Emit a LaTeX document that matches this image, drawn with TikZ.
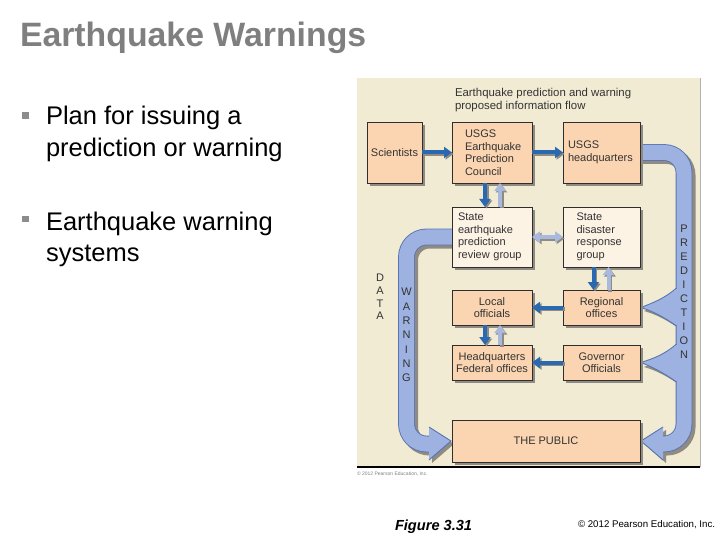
\documentclass[tikz,border=0pt]{standalone}
\usepackage{fontspec}
\setmainfont{Liberation Sans}
\usetikzlibrary{arrows.meta,shadows,calc}
\pgfdeclarelayer{bgA}
\pgfdeclarelayer{bgB}
\pgfsetlayers{bgA,bgB,main}
\definecolor{panelbg}{HTML}{F1EBD3}
\definecolor{peach}{HTML}{FBD5B1}
\definecolor{cream}{HTML}{FCF3E5}
\definecolor{bandfill}{HTML}{9DB2E0}
\definecolor{bandline}{HTML}{5774B2}
\definecolor{darkarr}{HTML}{2A68B0}
\definecolor{lightarr}{HTML}{A9B9DD}
\definecolor{titlegray}{HTML}{7F7F7F}
\definecolor{boxline}{HTML}{2E2E2E}
\definecolor{shadowgray}{HTML}{8F8B82}
\definecolor{figtext}{HTML}{333333}
\begin{document}
\begin{tikzpicture}[x=1pt,y=-1pt,
  every node/.style={inner sep=0pt, outer sep=0pt},
  fbox/.style={draw=boxline, line width=0.8pt, text=figtext,
    font=\fontsize{11}{12.5}\selectfont, align=left,
    drop shadow={shadow xshift=3pt, shadow yshift=-3pt, fill=shadowgray, opacity=1}},
  peachbox/.style={fbox, fill=peach},
  creambox/.style={fbox, fill=cream},
  darr/.style={draw=darkarr, line width=4pt, -{Triangle[width=11pt,length=8pt]}},
  larr/.style={draw=lightarr, line width=4pt, -{Triangle[width=11pt,length=8pt]}},
  lbarr/.style={draw=lightarr, line width=4pt, {Triangle[width=11pt,length=8pt]}-{Triangle[width=11pt,length=8pt]}},
  sarr/.style={draw=shadowgray, line width=4pt, -{Triangle[width=11pt,length=8pt]}},
  sbarr/.style={draw=shadowgray, line width=4pt, {Triangle[width=11pt,length=8pt]}-{Triangle[width=11pt,length=8pt]}},
  band/.style={draw=bandline, line width=0.9pt, double=bandfill, double distance=15pt, rounded corners=20pt},
  bandshadow/.style={draw=shadowgray, line width=17pt, rounded corners=20pt},
  headfill/.style={fill=bandfill},
  headline/.style={draw=bandline, line width=0.9pt},
  letters/.style={font=\fontsize{11}{14}\selectfont, align=center, text=figtext},
  bul/.style={fill=titlegray!90, minimum width=6.5pt, minimum height=6.5pt},
  bultext/.style={anchor=base west, font=\fontsize{25.5}{31}\selectfont, text=black}
]
\useasboundingbox (0,0) rectangle (720,540);

% slide text
\node[anchor=base west, font=\fontsize{33.8}{40}\selectfont\bfseries, text=titlegray] (title) at (20,47) {Earthquake Warnings};
\node[bul] (b1) at (25.5,115.5) {};
\node[bultext] (t1a) at (46,125) {Plan for issuing a};
\node[bultext] (t1b) at (46,157) {prediction or warning};
\node[bul] (b2) at (25.5,219) {};
\node[bultext] (t2a) at (46,230) {Earthquake warning};
\node[bultext] (t2b) at (46,261) {systems};
\node[anchor=base west, font=\fontsize{14.6}{17}\selectfont\bfseries\itshape] (fig) at (395,530) {Figure 3.31};
\node[anchor=base west, font=\fontsize{9.7}{11}\selectfont] (copy) at (578,527) {© 2012 Pearson Education, Inc.};

% panel
\begin{pgfonlayer}{bgA}
\fill[panelbg] (357,78) rectangle (700,467);
\draw[gray!60, line width=0.6pt] (700,78) -- (700,467);
\draw[black, line width=1.2pt] (357,467) -- (700,467);
\end{pgfonlayer}
\node[anchor=west, font=\fontsize{5}{6}\selectfont, text=gray] (pcopy) at (357,474) {© 2012 Pearson Education, Inc.};

\node[anchor=north west, font=\fontsize{11.4}{13}\selectfont, align=left, text=figtext] (header) at (455,88.5) {Earthquake prediction and warning\\proposed information flow};

% boxes
\node[peachbox, minimum width=55pt, minimum height=61pt, align=center] (sci) at (394.5,152.5) {Scientists};
\node[peachbox, minimum width=80pt, minimum height=61pt, text width=54pt] (council) at (492,152.5) {USGS\\Earthquake\\Prediction\\Council};
\node[peachbox, minimum width=77pt, minimum height=61pt, text width=67pt] (hq) at (601.5,152.5) {USGS\\headquarters};
\node[creambox, minimum width=80pt, minimum height=60pt, text width=68pt] (review) at (492,237) {State\\earthquake\\prediction\\review group};
\node[creambox, minimum width=77pt, minimum height=60pt, text width=50pt] (disaster) at (601.5,237) {State\\disaster\\response\\group};
\node[peachbox, minimum width=80pt, minimum height=35pt, align=center] (local) at (492,307.5) {Local\\officials};
\node[peachbox, minimum width=77pt, minimum height=35pt, align=center] (regional) at (601.5,307.5) {Regional\\offices};
\node[peachbox, minimum width=80pt, minimum height=35pt, align=center] (hqfed) at (492,362.5) {Headquarters\\Federal offices};
\node[peachbox, minimum width=77pt, minimum height=35pt, align=center] (gov) at (601.5,362.5) {Governor\\Officials};
\node[peachbox, minimum width=188pt, minimum height=42pt, align=center] (public) at (546,441) {THE PUBLIC};

% letters
\node[letters] (pred) at (684,292) {P\\R\\E\\D\\I\\C\\T\\I\\O\\N};
\node[letters, font=\fontsize{11}{12.7}\selectfont] (data) at (380,297) {D\\A\\T\\A};
\node[letters, font=\fontsize{11}{14.3}\selectfont] (warn) at (406.5,335) {W\\A\\R\\N\\I\\N\\G};

% big band shadows
\begin{pgfonlayer}{bgA}
\begin{scope}[transform canvas={shift={(3pt,-3pt)}}]
\draw[bandshadow] (hq.east) -- (684,152.5) -- (684,444) -- (660,444);
\draw[bandshadow] (review.west) -- (406.5,237) -- (406.5,444) -- (431,444);
\fill[shadowgray] (677,288) .. controls (665,298) and (655,302) .. (641,308) .. controls (655,312) and (665,318) .. (677,326) -- cycle;
\fill[shadowgray] (677,344) .. controls (665,354) and (655,358) .. (641,364) .. controls (655,368) and (665,374) .. (677,382) -- cycle;
\fill[shadowgray] (663,427) -- (641,441) -- (663,460) -- cycle;
\fill[shadowgray] (429,427) -- (451,441) -- (429,460) -- cycle;
\end{scope}
\end{pgfonlayer}

% big bands
\begin{pgfonlayer}{bgB}
\draw[band] (hq.east) -- (684,152.5) -- (684,444) -- (660,444);
\draw[band] (review.west) -- (406.5,237) -- (406.5,444) -- (431,444);
% head into public (right)
\fill[headfill] (663,427) -- ($(public.east)+(1,0)$) -- (663,460) -- cycle;
\draw[headline] (663,427) -- ($(public.east)+(1,0)$) -- (663,460);
% head into public (left)
\fill[headfill] (429,427) -- ($(public.west)+(-1,0)$) -- (429,460) -- cycle;
\draw[headline] (429,427) -- ($(public.west)+(-1,0)$) -- (429,460);
% wedges to regional and governor
\fill[headfill] (677.5,288) .. controls (665,298) and (655,302) .. ($(regional.east)+(1,0)$) .. controls (655,312) and (665,318) .. (677.5,326) -- cycle;
\draw[headline] (676.5,288) .. controls (665,298) and (655,302) .. ($(regional.east)+(1,0)$) .. controls (655,312) and (665,318) .. (676.5,326);
\fill[headfill] (677.5,344) .. controls (665,354) and (655,358) .. ($(gov.east)+(1,0)$) .. controls (655,368) and (665,374) .. (677.5,382) -- cycle;
\draw[headline] (676.5,344) .. controls (665,354) and (655,358) .. ($(gov.east)+(1,0)$) .. controls (655,368) and (665,374) .. (676.5,382);
\end{pgfonlayer}

% small arrow shadows
\begin{scope}[transform canvas={shift={(1.5pt,-1.5pt)}}]
\draw[sarr] (sci.east) -- (council.west);
\draw[sarr] (council.east) -- (hq.west);
\draw[sarr] ($(council.south)+(-7,0)$) -- ($(review.north)+(-7,0)$);
\draw[sarr] ($(review.north)+(8,0)$) -- ($(council.south)+(8,0)$);
\draw[sbarr] (review.east) -- (disaster.west);
\draw[sarr] ($(disaster.south)+(-8,0)$) -- ($(regional.north)+(-8,0)$);
\draw[sarr] ($(regional.north)+(7,0)$) -- ($(disaster.south)+(7,0)$);
\draw[sarr] (regional.west) -- (local.east);
\draw[sarr] ($(local.south)+(-7,0)$) -- ($(hqfed.north)+(-7,0)$);
\draw[sarr] ($(hqfed.north)+(8,0)$) -- ($(local.south)+(8,0)$);
\draw[sarr] (gov.west) -- (hqfed.east);
\end{scope}

% small arrows
\draw[darr] (sci.east) -- (council.west);
\draw[darr] (council.east) -- (hq.west);
\draw[darr] ($(council.south)+(-7,0)$) -- ($(review.north)+(-7,0)$);
\draw[larr] ($(review.north)+(8,0)$) -- ($(council.south)+(8,0)$);
\draw[lbarr] (review.east) -- (disaster.west);
\draw[darr] ($(disaster.south)+(-8,0)$) -- ($(regional.north)+(-8,0)$);
\draw[larr] ($(regional.north)+(7,0)$) -- ($(disaster.south)+(7,0)$);
\draw[darr] (regional.west) -- (local.east);
\draw[darr] ($(local.south)+(-7,0)$) -- ($(hqfed.north)+(-7,0)$);
\draw[larr] ($(hqfed.north)+(8,0)$) -- ($(local.south)+(8,0)$);
\draw[darr] (gov.west) -- (hqfed.east);
\end{tikzpicture}
\end{document}
